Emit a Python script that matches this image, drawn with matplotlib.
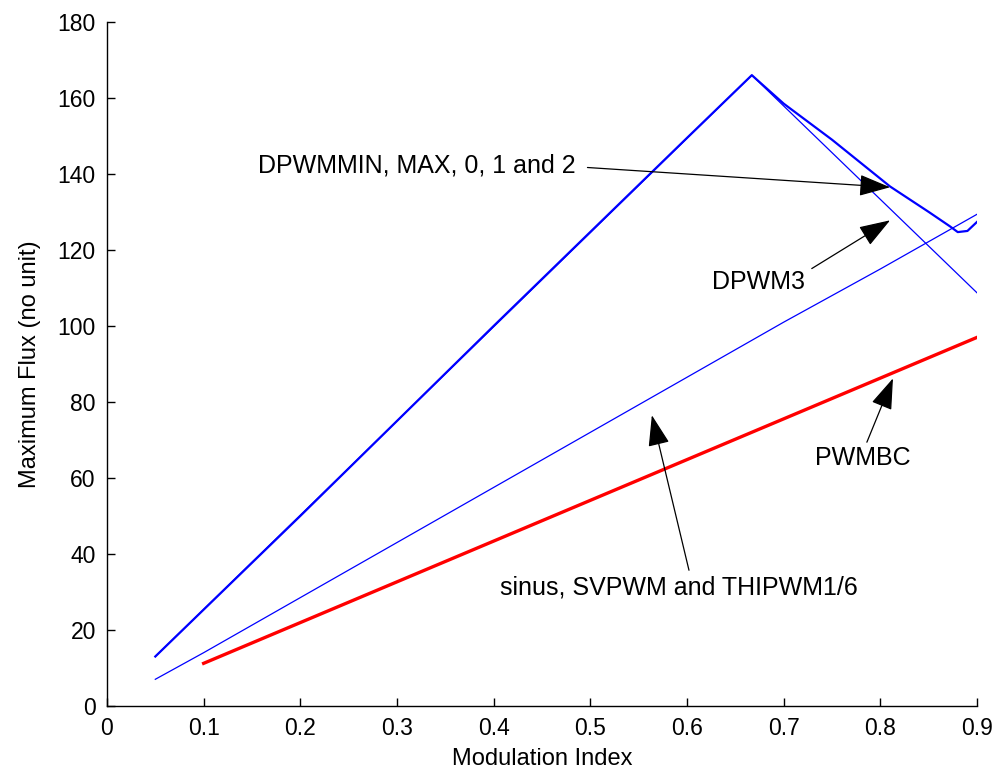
import matplotlib
matplotlib.use('Agg')
import matplotlib.pyplot as plt

# -------------------------------------------------------------------------
# Data
# -------------------------------------------------------------------------
# DPWMMIN, MAX, 0, 1 and 2 (thick blue)
dpwm_x = [0.05, 0.2, 0.4, 0.6, 0.667, 0.70, 0.75, 0.81, 0.85, 0.872, 0.88, 0.89, 0.90]
dpwm_y = [13.0, 50.0, 100.0, 149.5, 166.0, 158.5, 149.0, 136.7, 130.0, 126.2, 124.7, 125.0, 127.4]

# DPWM3 (thin blue)
dpwm3_x = [0.05, 0.667, 0.90]
dpwm3_y = [13.0, 166.0, 108.7]

# sinus, SVPWM and THIPWM1/6 (thin blue)
sin_x = [0.05, 0.1, 0.2, 0.3, 0.4, 0.5, 0.6, 0.7, 0.8, 0.9]
sin_y = [7.0, 14.0, 28.5, 43.0, 57.5, 72.0, 86.5, 101.0, 115.0, 129.4]

# PWMBC (red)
pwmbc_x = [0.1, 0.9]
pwmbc_y = [11.2, 97.0]

x_ticks = [0, 0.1, 0.2, 0.3, 0.4, 0.5, 0.6, 0.7, 0.8, 0.9]
x_tick_labels = ['0', '0.1', '0.2', '0.3', '0.4', '0.5', '0.6', '0.7', '0.8', '0.9']
y_ticks = [0, 20, 40, 60, 80, 100, 120, 140, 160, 180]

# annotations: text, text anchor, arrow tail, arrow tip
notes = [
    ('DPWMMIN, MAX, 0, 1 and 2', (0.156, 142.3), (0.497, 141.7), (0.81, 136.5)),
    ('DPWM3', (0.626, 111.5), (0.729, 115.1), (0.81, 127.8)),
    ('PWMBC', (0.732, 65.2), (0.786, 69.4), (0.813, 86.2)),
    ('sinus, SVPWM and THIPWM1/6', (0.4065, 31.2), (0.602, 35.7), (0.5636, 76.5)),
]

# -------------------------------------------------------------------------
# Plot
# -------------------------------------------------------------------------
plt.rcParams['font.family'] = ['Liberation Sans', 'DejaVu Sans']

fig = plt.figure(figsize=(9.95, 7.74), dpi=100)
ax = fig.add_axes([0.1075, 0.088, 0.8745, 0.8836])

ax.plot(dpwm3_x, dpwm3_y, color='#0000ff', linewidth=0.9)
ax.plot(sin_x, sin_y, color='#0000ff', linewidth=0.9)
ax.plot(dpwm_x, dpwm_y, color='#0000ff', linewidth=1.6)
ax.plot(pwmbc_x, pwmbc_y, color='#ff0000', linewidth=2.4)

for label, txt_pos, tail, tip in notes:
    ax.text(txt_pos[0], txt_pos[1], label, fontsize=18, ha='left', va='center')
    ax.annotate('', xy=tip, xytext=tail,
                arrowprops=dict(arrowstyle='-|>,head_length=1.3,head_width=0.45',
                                color='black', lw=0.9, mutation_scale=15,
                                shrinkA=0, shrinkB=0))

ax.set_xlim(0, 0.9)
ax.set_ylim(0, 180)
ax.set_xticks(x_ticks)
ax.set_xticklabels(x_tick_labels)
ax.set_yticks(y_ticks)
ax.tick_params(direction='in', length=6, width=1, labelsize=16.5, pad=8)
for side in ['top', 'right']:
    ax.spines[side].set_visible(False)
for side in ['left', 'bottom']:
    ax.spines[side].set_linewidth(1)

ax.set_xlabel('Modulation Index', fontsize=17, labelpad=6)
ax.set_ylabel('Maximum Flux (no unit)', fontsize=17, labelpad=12)

plt.savefig('out.png', dpi=100)
